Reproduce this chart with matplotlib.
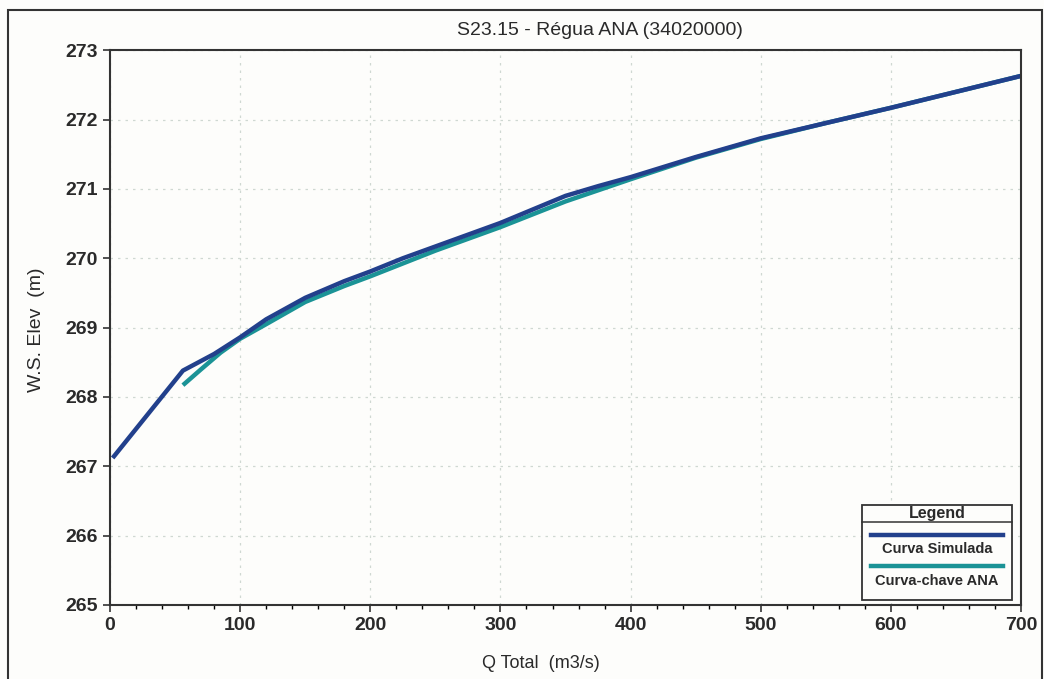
import numpy as np
import matplotlib.pyplot as plt
from matplotlib.patches import Rectangle
from matplotlib.lines import Line2D

# curva simulada (HEC-RAS)
q_sim = [2, 56, 80, 100, 120, 150, 180, 200, 225, 250, 300, 350, 375, 400, 450, 500, 550, 600, 650, 700]
ws_sim = [267.12, 268.38, 268.62, 268.86, 269.12, 269.43, 269.67, 269.81, 270.00, 270.17, 270.51, 270.90, 271.04, 271.17, 271.46, 271.73, 271.95, 272.17, 272.40, 272.63]

# curva-chave ANA
q_ana = [56, 70, 85, 100, 120, 150, 180, 200, 250, 300, 350, 375, 400, 450, 500, 550, 600, 650, 700]
ws_ana = [268.17, 268.40, 268.64, 268.84, 269.05, 269.37, 269.60, 269.74, 270.11, 270.45, 270.82, 270.98, 271.14, 271.45, 271.72, 271.95, 272.17, 272.40, 272.63]

xticks = [0, 100, 200, 300, 400, 500, 600, 700]
yticks = [265, 266, 267, 268, 269, 270, 271, 272, 273]

c_sim = '#22408c'
c_ana = '#1b9396'

plt.rcParams['font.family'] = ['Liberation Sans', 'DejaVu Sans']

fig = plt.figure(figsize=(10.44, 6.79), dpi=100)
fig.patch.set_facecolor('#fdfdfb')
ax = fig.add_axes([0.1054, 0.109, 0.8726, 0.817])
ax.set_facecolor('#fdfdfb')

ax.plot(q_ana, ws_ana, color=c_ana, lw=3.2, solid_capstyle='butt')
ax.plot(q_sim, ws_sim, color=c_sim, lw=3.2, solid_capstyle='butt')

ax.set_xlim(0, 700)
ax.set_ylim(265, 273)
ax.set_xticks(xticks)
ax.set_yticks(yticks)
ax.set_xticks(np.arange(0, 701, 20), minor=True)
ax.tick_params(axis='both', labelsize=14, width=1.2, length=5, direction='out', colors='#333333')
ax.tick_params(axis='x', which='minor', length=3, width=1.0)
for lab in ax.get_xticklabels() + ax.get_yticklabels():
    lab.set_fontweight('bold')
    lab.set_color('#2a2a2a')
ax.grid(True, which='major', color='#cfd8d2', linestyle=(0, (2, 4)), lw=0.9)
for s in ax.spines.values():
    s.set_color('#333333')
    s.set_linewidth(1.5)

# legend box
tr = ax.transAxes
ax.add_patch(Rectangle((0.8255, 0.009), 0.1645, 0.171, transform=tr, fill=True,
                       facecolor='#fdfdfb', edgecolor='#333333', lw=1.3, zorder=5))
ax.add_line(Line2D([0.8255, 0.99], [0.1495, 0.1495], transform=tr, color='#333333', lw=1.1, zorder=6))
ax.text(0.9078, 0.1645, 'Legend', transform=tr, ha='center', va='center',
        fontsize=11.5, fontweight='bold', color='#2a2a2a', zorder=6)
ax.add_line(Line2D([0.835, 0.98], [0.126, 0.126], transform=tr, color=c_sim, lw=3.2, zorder=6))
ax.text(0.9078, 0.101, 'Curva Simulada', transform=tr, ha='center', va='center',
        fontsize=10.5, fontweight='bold', color='#2a2a2a', zorder=6)
ax.add_line(Line2D([0.835, 0.98], [0.070, 0.070], transform=tr, color=c_ana, lw=3.2, zorder=6))
ax.text(0.9078, 0.043, 'Curva-chave ANA', transform=tr, ha='center', va='center',
        fontsize=10.5, fontweight='bold', color='#2a2a2a', zorder=6)

fig.text(0.575, 0.955, 'S23.15 - Régua ANA (34020000)', ha='center', va='center',
         fontsize=14, color='#2a2a2a')
fig.text(0.518, 0.023, 'Q Total  (m3/s)', ha='center', va='center',
         fontsize=13, color='#2a2a2a')
fig.text(0.035, 0.515, 'W.S. Elev  (m)', ha='center', va='center', rotation=90,
         fontsize=14, color='#2a2a2a')

# outer frame
fig.patches.append(Rectangle((0.0077, -0.01), 0.9903, 0.995, transform=fig.transFigure,
                             fill=False, edgecolor='#333333', lw=1.5))

fig.savefig('out.png', dpi=100)
